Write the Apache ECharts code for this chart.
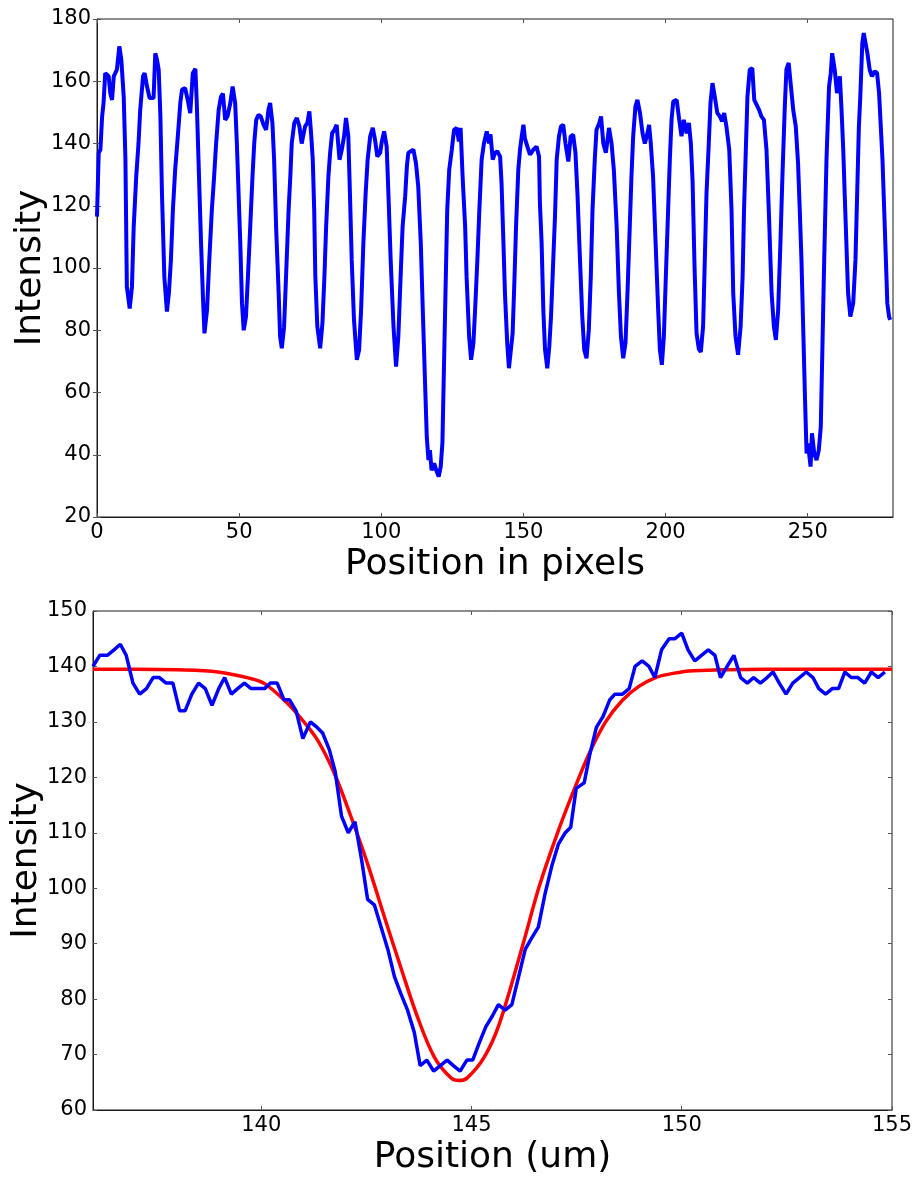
<!DOCTYPE html>
<html>
<head>
<meta charset="utf-8">
<script src="https://cdn.jsdelivr.net/npm/echarts@6/dist/echarts.min.js"></script>
<style>html,body{margin:0;padding:0;background:#fff}#c{width:916px;height:1177px}</style>
</head>
<body>
<div id="c"></div>
<script>
// ---------- Top panel: intensity profile along the line (pixels) ----------
const topPos = [0,0.6,1.2,1.8,2.3,2.9,3.5,4.1,4.7,5.3,5.9,6.4,7.0,7.85,8.55,9.4,10,10.5,11.5,12.3,12.9,13.8,14.6,15.2,16.2,16.75,17.6,18.5,19.9,20.5,21.1,21.7,22.3,22.85,23.7,24.6,25.3,26,26.7,27.5,28.4,29.3,29.9,31,31.9,32.8,33.7,34.6,35.1,35.7,36.6,37.3,37.8,38.7,39.5,40.4,41.2,41.9,42.8,43.6,44.3,45.1,45.9,46.9,47.7,48.6,49.2,49.8,50.4,51,51.6,52.4,53.1,53.9,54.7,55.3,56,56.8,57.6,58.6,59.5,60.3,60.9,61.7,62.3,63,63.9,64.4,65,65.8,66.5,67.4,68,68.5,69.4,70.3,71.2,72,73.2,74,74.7,75.3,75.9,76.4,76.8,77.5,78.5,79.3,80,80.6,81.4,82,82.7,83.5,84.3,85.3,86.1,86.9,87.6,88.4,89,89.6,90.4,91.4,92.2,92.9,93.7,94.5,95.2,96.1,97,97.8,98.6,99.6,100.2,101,101.9,102.5,103.3,104.3,105.2,106,106.8,107.5,108.4,109,109.5,110.4,111.3,112.2,113,113.9,114.6,115.4,116,116.6,117.1,117.7,118.6,119.5,120.2,120.9,121.5,122.1,122.7,123.2,123.9,124.8,125.6,126.5,127.3,127.9,128.6,129.5,130,130.9,131.6,132.4,133,133.8,134.5,135.3,136.1,137.1,137.9,138.4,139.2,140,140.8,141.8,142.3,142.9,143.5,144.3,144.9,145.6,146.2,146.8,147.4,148.2,148.8,149.4,150,150.5,151.4,152.3,153.5,154.6,155.5,155.8,156.4,157,157.6,158.4,159.1,159.7,160.5,161.1,161.7,162.5,163.2,164,164.8,165.8,166.6,167.5,168.3,169,169.9,170.7,171.4,172.2,173,173.7,174.3,175.1,175.7,176.7,177.3,178.1,179,180.1,181,181.8,182.8,183.6,184.3,185.1,185.9,186.6,187.4,188,188.6,189.4,190.1,191,191.9,192.7,193.5,194.2,194.8,195.6,196.5,197.4,198,198.7,199.4,200.1,200.9,201.5,202.1,202.7,203.9,204.8,205.6,206.4,207.4,208.2,208.9,209.5,210.2,210.9,211.7,212.4,213.2,213.8,214.4,215.2,215.8,216.5,217.3,218.2,219.1,219.9,220.6,221.4,222.4,223.2,223.8,224.6,225.5,226.4,227.1,227.6,228.2,228.8,229.6,230.5,231.2,232,232.9,233.7,234.6,235.5,236.3,237.3,238.1,238.8,239.6,240.4,241.1,241.9,242.5,243.3,244.1,244.9,245.8,246.6,247.2,247.8,248.4,249,249.6,250.1,251,251.5,252.3,253.1,253.9,254.6,255.2,255.8,256.6,257.5,258.1,258.6,259.5,260.3,261.3,261.9,262.5,263,263.6,264.2,265,266,266.8,267.4,268,268.5,269.2,269.7,270.4,271,271.8,272.6,273.6,274.4,275.1,275.7,276.3,276.9,277.5,278,278.6,279];
const topIntensity = [116.5,137,138,148.7,153,162.6,163,161.6,156,154,161.6,162,163.7,171.2,167,155,134.8,94,87,94,113,129.4,140,150.8,161.6,162.6,158.3,154.6,154.6,169,167,163.7,148.7,124,97,86,92,102.6,118.7,131.6,142,153,157.3,157.8,154,149.8,162.6,164,153,134.8,108,89.8,79,86.5,102.6,118.7,129.4,140,150.8,155,156,147.6,148.7,153,158.3,153,140,124,108,88.7,80,84.4,97.3,113.3,129.4,140,147.6,149.2,148.7,146,144.4,150.8,153,146.6,134.8,113.3,92,78,74.2,81,97.3,118.7,129.4,140,146.6,148.2,145.5,140,145.5,146.6,150.3,143.3,134.8,118.7,97.3,81.2,74.2,82.3,97.3,113.3,129.4,137,143.3,144.4,146,134.8,138,142.3,148.2,142.3,123,102.6,83.3,70.5,73.7,86.5,108,124,134.8,142.3,145,141.2,135.8,137,140.7,143.9,139,124,102.6,81.2,68.3,78,97.3,113.3,123,132.6,137,137.5,138,133.7,126.2,108,86.5,63,45.8,38.3,41.5,35,37.2,34.6,33,36.2,43.7,70.5,97.3,118.7,131.6,138,144.4,145,140.7,145,129.4,113.3,97.3,78,70.5,75.8,86.5,102.6,118.7,134.8,140,143.9,140,143,134.8,137,137.5,135.8,127.3,110.1,91.9,75.8,67.8,68.3,79,95.1,113.3,131.6,138,142.3,146,141.7,139,136.4,138,139,135.8,120.8,108,86.5,73.7,67.8,74.8,84.4,102.6,116.5,134.8,142.3,145.5,146,140,134.2,142.3,142.8,137,124,102.6,84.4,73.7,71,80.1,97.3,118.7,134.8,144.4,146.6,148.7,140,137,145,140,131.6,113.3,91.9,78,71,75.8,91.9,113.3,129.4,142.3,151.9,154,149.8,143.3,140,142.8,146,140,129.4,108,86.5,73.7,68.9,78,97.3,118.7,134.8,147.6,153.5,154,147.6,142.3,147.6,143.3,146.6,140,128,100,79,74,73,81.2,102.6,124,140,153,159.4,155.1,149.8,148.7,147.1,149.8,145.5,138,118.7,91.9,78,72.1,81.2,97.3,118.7,137,155.1,163.7,164.2,154,152.5,150.8,148.7,147.6,138,118.7,91.9,81.2,76.9,86.5,108,129.4,150.8,163.7,165.9,158.3,150.8,145.5,133.7,118.7,102.6,81.2,59.7,40.4,43.6,36.2,46.9,40.4,38.3,41.5,49,75.8,102.6,134.8,158.3,162.6,169,163.7,156.2,161.6,150.8,138,124,108,91.9,84.4,88.7,102.6,124,145.5,155.1,172.3,175.5,175.5,169,163.7,161.6,163.2,162.6,156.2,145.5,134.8,118.7,102.6,88.7,84.4,83.3];
const topXTicks = [0, 50, 100, 150, 200, 250];

// ---------- Bottom panel: one dip with Gaussian fit (um) ----------
const dipPos = [136,136.16,136.34,136.5,136.65,136.79,136.95,137.11,137.27,137.43,137.58,137.74,137.9,138.06,138.19,138.35,138.51,138.67,138.83,138.99,139.13,139.29,139.44,139.6,139.76,139.92,140.08,140.22,140.38,140.54,140.67,140.83,140.99,141.17,141.33,141.46,141.62,141.76,141.91,142.07,142.23,142.39,142.53,142.69,142.85,143.01,143.17,143.32,143.48,143.64,143.78,143.94,144.1,144.26,144.42,144.57,144.73,144.89,145.03,145.18,145.34,145.5,145.64,145.8,145.96,146.12,146.28,146.43,146.59,146.75,146.91,147.07,147.23,147.36,147.49,147.68,147.81,147.97,148.13,148.29,148.41,148.59,148.75,148.89,149.06,149.22,149.36,149.52,149.7,149.84,150,150.15,150.31,150.47,150.63,150.79,150.92,151.08,151.24,151.4,151.56,151.71,151.87,152.03,152.17,152.32,152.48,152.64,152.8,152.96,153.12,153.26,153.42,153.58,153.73,153.88,154.03,154.19,154.35,154.51,154.67,154.83];
const dipIntensity = [140,142,142,143,144,142,137,135,136,138,138,137,137,132,132,135,137,136,133,136,138,135,136,137,136,136,136,137,137,134,134,132,127,130,129,128,125,121,113,110,112,105,98,97,93,89,84,81,78,74,68,69,67,68,69,68,67,69,69,72,75,77,79,78,79,84,89,91,93,99,104,108,110,111,118,119,124,129,131,134,135,135,136,140,141,140,138,143,145,145,146,143,141,142,143,142,138,140,142,138,137,138,137,138,139,137,135,137,138,139,138,136,135,136,136,139,138,138,137,139,138,139];
const fitPos = [136,137,138,138.97,139.76,140.08,140.55,140.95,141.34,141.74,142.14,142.53,142.93,143.32,143.72,144.12,144.51,144.7,144.9,145.3,145.66,146.21,146.61,147.0,147.4,147.8,148.19,148.59,148.98,149.38,149.77,150.17,151,152,153,154,155];
const fitIntensity = [139.5,139.5,139.4,139.0,137.8,136.9,133.9,130.6,126.7,120.7,112.8,104.4,94.8,85.7,76.7,69.5,65.8,65.3,65.8,69.5,75.5,89.5,100.3,109.0,117.0,124.3,130.0,133.9,136.4,138.0,138.7,139.2,139.4,139.5,139.5,139.5,139.5];
const bottomXTicks = [140, 145, 150, 155];

const zip = (a, b) => a.map((v, i) => [v, b[i]]);

const FONT = 'DejaVu Sans';
const frame = '#1a1a1a';
const tickColor = '#555';

function mainX(grid, min, max, ticks, name) {
  return {
    type: 'value', gridIndex: grid, min: min, max: max, position: 'bottom',
    axisLine: { show: true, onZero: false, lineStyle: { color: frame, width: 1 } },
    axisTick: { show: true, inside: true, length: 4, customValues: ticks, lineStyle: { color: tickColor } },
    axisLabel: { show: true, customValues: ticks, fontSize: 21, color: '#000', fontFamily: FONT, margin: 5 },
    splitLine: { show: false },
    name: name, nameLocation: 'middle', nameGap: 30, nameMoveOverlap: false,
    nameTextStyle: { fontSize: 36, color: '#000', fontFamily: FONT, verticalAlign: 'top' }
  };
}
function sideX(grid, min, max, ticks) {
  return {
    type: 'value', gridIndex: grid, min: min, max: max, position: 'top',
    axisLine: { show: false }, splitLine: { show: false },
    axisTick: { show: true, inside: true, length: 4, customValues: ticks, lineStyle: { color: tickColor } },
    axisLabel: { show: false }
  };
}
function mainY(grid, min, max, interval) {
  return {
    type: 'value', gridIndex: grid, min: min, max: max, interval: interval, position: 'left',
    axisLine: { show: true, onZero: false, lineStyle: { color: frame, width: 1 } },
    axisTick: { show: true, inside: true, length: 4, lineStyle: { color: tickColor } },
    axisLabel: { show: true, fontSize: 21, color: '#000', fontFamily: FONT, margin: 6 },
    splitLine: { show: false },
    name: 'Intensity', nameLocation: 'middle', nameGap: 48, nameRotate: 90, nameMoveOverlap: false,
    nameTextStyle: { fontSize: 36, color: '#000', fontFamily: FONT }
  };
}
function sideY(grid, min, max, interval) {
  return {
    type: 'value', gridIndex: grid, min: min, max: max, interval: interval, position: 'right',
    axisLine: { show: false }, splitLine: { show: false },
    axisTick: { show: true, inside: true, length: 4, lineStyle: { color: tickColor } },
    axisLabel: { show: false }
  };
}

const chart = echarts.init(document.getElementById('c'), null, { renderer: 'canvas' });
chart.setOption({
  animation: false,
  backgroundColor: '#fff',
  grid: [
    { left: 97, top: 19, width: 796, height: 498, show: true, borderColor: frame, borderWidth: 1,
      containLabel: false, outerBoundsMode: 'none' },
    { left: 93, top: 611, width: 799, height: 499, show: true, borderColor: frame, borderWidth: 1,
      containLabel: false, outerBoundsMode: 'none' }
  ],
  xAxis: [
    mainX(0, 0, 280, topXTicks, 'Position in pixels'),
    sideX(0, 0, 280, topXTicks),
    mainX(1, 136, 155, bottomXTicks, 'Position (um)'),
    sideX(1, 136, 155, bottomXTicks)
  ],
  yAxis: [
    mainY(0, 20, 180, 20),
    sideY(0, 20, 180, 20),
    mainY(1, 60, 150, 10),
    sideY(1, 60, 150, 10)
  ],
  series: [
    { type: 'line', xAxisIndex: 0, yAxisIndex: 0, data: zip(topPos, topIntensity),
      showSymbol: false, lineStyle: { color: '#0000ff', width: 4 }, z: 3 },
    { type: 'line', xAxisIndex: 2, yAxisIndex: 2, data: zip(fitPos, fitIntensity),
      showSymbol: false, smooth: 0.35, lineStyle: { color: '#ff0000', width: 3.5 }, z: 3 },
    { type: 'line', xAxisIndex: 2, yAxisIndex: 2, data: zip(dipPos, dipIntensity),
      showSymbol: false, lineStyle: { color: '#0000ff', width: 3.5 }, z: 4 }
  ]
});
</script>
</body>
</html>
